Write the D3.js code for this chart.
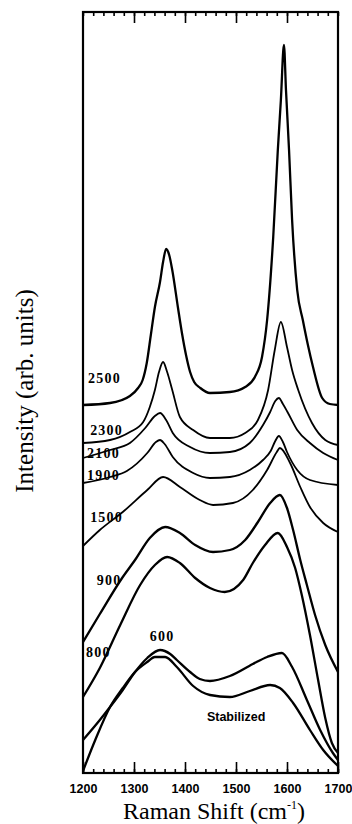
<!DOCTYPE html>
<html>
<head>
<meta charset="utf-8">
<script src="https://cdn.jsdelivr.net/npm/d3@7"></script>
<style>
  body { margin: 0; background: #fff; }
</style>
</head>
<body>
<div id="chart"></div>
<script>
// Raman spectra, [wavenumber (cm-1), intensity (arb. units)]
const s2500 = [[1200,368],[1253,370],[1292,377],[1308,385],[1317,393],[1325,410],[1333,438],[1341,466],[1351,491],[1357,511],[1363,524],[1369,518],[1375,503],[1386,466],[1394,440],[1402,418],[1410,401],[1418,391],[1430,385],[1449,380],[1488,381],[1518,386],[1537,396],[1551,416],[1561,453],[1573,536],[1582,623],[1588,673],[1594,728],[1598,683],[1604,623],[1610,553],[1620,483],[1631,453],[1641,428],[1651,406],[1669,375],[1684,369],[1700,368]];
const s2300 = [[1200,330],[1253,333],[1292,341],[1318,351],[1331,366],[1341,383],[1349,401],[1357,411],[1365,401],[1375,383],[1390,356],[1416,343],[1449,335],[1488,335],[1518,340],[1543,353],[1563,383],[1576,423],[1588,451],[1600,426],[1610,403],[1622,383],[1649,350],[1675,333],[1700,328]];
const s2100 = [[1200,315],[1253,323],[1292,330],[1322,345],[1341,357],[1351,360],[1363,353],[1376,340],[1410,326],[1449,320],[1488,321],[1527,330],[1553,348],[1567,361],[1577,372],[1584,375],[1592,369],[1602,360],[1620,343],[1645,330],[1671,320],[1700,313]];
const s1900 = [[1200,290],[1253,296],[1286,302],[1326,320],[1343,331],[1351,333],[1360,329],[1376,316],[1416,300],[1449,295],[1488,296],[1527,303],[1553,313],[1568,322],[1577,332],[1584,337],[1592,331],[1600,321],[1620,303],[1645,293],[1700,288]];
const s1500 = [[1200,227],[1233,243],[1278,261],[1326,283],[1357,296],[1390,286],[1429,273],[1455,268],[1494,270],[1533,283],[1561,303],[1580,321],[1586,325],[1606,310],[1626,286],[1645,266],[1671,250],[1700,241]];
const s900 = [[1200,131],[1233,159],[1278,196],[1302,213],[1331,235],[1361,246],[1390,240],[1420,228],[1455,221],[1488,223],[1518,233],[1543,251],[1567,270],[1586,278],[1600,265],[1612,243],[1626,213],[1639,188],[1655,158],[1675,128],[1700,101]];
const s800 = [[1200,76],[1233,105],[1273,148],[1312,188],[1341,208],[1365,216],[1390,210],[1420,195],[1449,185],[1478,181],[1514,193],[1533,210],[1557,228],[1582,240],[1600,226],[1616,205],[1629,178],[1645,138],[1661,93],[1675,55],[1688,30],[1700,20]];
const s600 = [[1200,33],[1233,53],[1253,66],[1278,83],[1302,101],[1326,115],[1351,123],[1371,119],[1384,113],[1410,101],[1429,94],[1449,92],[1488,97],[1533,109],[1561,116],[1590,120],[1610,106],[1639,73],[1665,43],[1690,20],[1700,13]];
const sStab = [[1200,2],[1224,33],[1253,66],[1278,85],[1302,101],[1326,111],[1341,116],[1361,116],[1384,106],[1416,87],[1449,78],[1488,76],[1527,82],[1567,88],[1586,85],[1612,70],[1645,43],[1671,23],[1700,7]];

const seriesList = [s2500, s2300, s2100, s1900, s1500, s900, s800, s600, sStab];
const noisy = [true, false, false, false, false, true, true, true, true];

// curve labels: text, wavenumber, intensity
const labelText = ["2500", "2300", "2100", "1900", "1500", "900", "800", "600", "Stabilized"];
const labelW = [1210, 1214, 1208, 1208, 1214, 1227, 1206, 1331, 1443];
const labelI = [390, 338, 315, 293, 251, 188, 116, 132, 52];

const xTicks = [1200, 1300, 1400, 1500, 1600, 1700];
const xMinor = d3.range(1200, 1701, 20);

const W = 352, H = 824;
const margin = { top: 12, right: 14, bottom: 51, left: 83 };
const width = W - margin.left - margin.right;
const height = H - margin.top - margin.bottom;

const svg = d3.select("#chart")
  .append("svg")
  .attr("width", W)
  .attr("height", H)
  .append("g")
  .attr("transform", "translate(" + margin.left + "," + margin.top + ")");

const x = d3.scaleLinear().domain([1200, 1700]).range([0, width]);
const y = d3.scaleLinear().domain([0, 761]).range([height, 0]);

// spectra
const line = d3.line()
  .x(d => x(d[0]))
  .y(d => y(d[1]))
  .curve(d3.curveMonotoneX);

svg.selectAll("path.spec")
  .data(seriesList)
  .enter()
  .append("path")
  .attr("class", "spec")
  .attr("fill", "none")
  .attr("stroke", "#000")
  .attr("stroke-width", (d, i) => noisy[i] ? 2.3 : 1.8)
  .attr("stroke-linejoin", "round")
  .attr("d", d => line(d));

// bottom axis, ticks pointing inward
svg.append("g")
  .attr("transform", "translate(0," + height + ")")
  .call(d3.axisBottom(x).tickValues(xMinor).tickSize(-4).tickFormat(""))
  .call(g => g.select(".domain").remove());
svg.append("g")
  .attr("transform", "translate(0," + height + ")")
  .call(d3.axisBottom(x).tickValues(xTicks).tickSize(-11).tickPadding(11).tickFormat(d3.format("d")))
  .call(g => g.select(".domain").remove())
  .call(g => g.selectAll("text")
    .attr("font-family", "'Liberation Sans', Arial, sans-serif")
    .attr("font-weight", "bold")
    .attr("font-size", "12.5px")
    .attr("fill", "#000"));

// top axis, ticks pointing inward
svg.append("g")
  .call(d3.axisTop(x).tickValues(xMinor).tickSize(-4).tickFormat(""))
  .call(g => g.select(".domain").remove());
svg.append("g")
  .call(d3.axisTop(x).tickValues(xTicks.slice(1, -1)).tickSize(-11).tickFormat(""))
  .call(g => g.select(".domain").remove());

svg.selectAll(".tick line").attr("stroke", "#000").attr("stroke-width", 1.6);

// frame
svg.append("rect")
  .attr("x", 0)
  .attr("y", 0)
  .attr("width", width)
  .attr("height", height)
  .attr("fill", "none")
  .attr("stroke", "#000")
  .attr("stroke-width", 2.2);

// curve labels
svg.selectAll("text.lbl")
  .data(labelText)
  .enter()
  .append("text")
  .attr("class", "lbl")
  .attr("x", (d, i) => x(labelW[i]))
  .attr("y", (d, i) => y(labelI[i]))
  .attr("font-family", (d, i) => i === 8 ? "'Liberation Sans', Arial, sans-serif" : "'Liberation Serif', 'Times New Roman', serif")
  .attr("font-weight", "bold")
  .attr("font-size", (d, i) => i === 8 ? "12.5px" : "14px")
  .attr("letter-spacing", (d, i) => i === 8 ? "0px" : "1.2px")
  .text(d => d);

// X axis label
const xt = svg.append("text")
  .attr("x", 131)
  .attr("y", height + 46)
  .attr("text-anchor", "middle")
  .attr("font-family", "'Liberation Serif', 'Times New Roman', serif")
  .attr("font-size", "24px")
  .text("Raman Shift (cm");
xt.append("tspan")
  .attr("font-size", "12px")
  .attr("dy", "-10")
  .text("-1");
xt.append("tspan")
  .attr("dy", "10")
  .text(")");

// Y axis label
svg.append("text")
  .attr("transform", "translate(" + (33 - margin.left) + "," + (391 - margin.top) + ") rotate(-90)")
  .attr("text-anchor", "middle")
  .attr("font-family", "'Liberation Serif', 'Times New Roman', serif")
  .attr("font-size", "25px")
  .text("Intensity (arb. units)");
</script>
</body>
</html>
